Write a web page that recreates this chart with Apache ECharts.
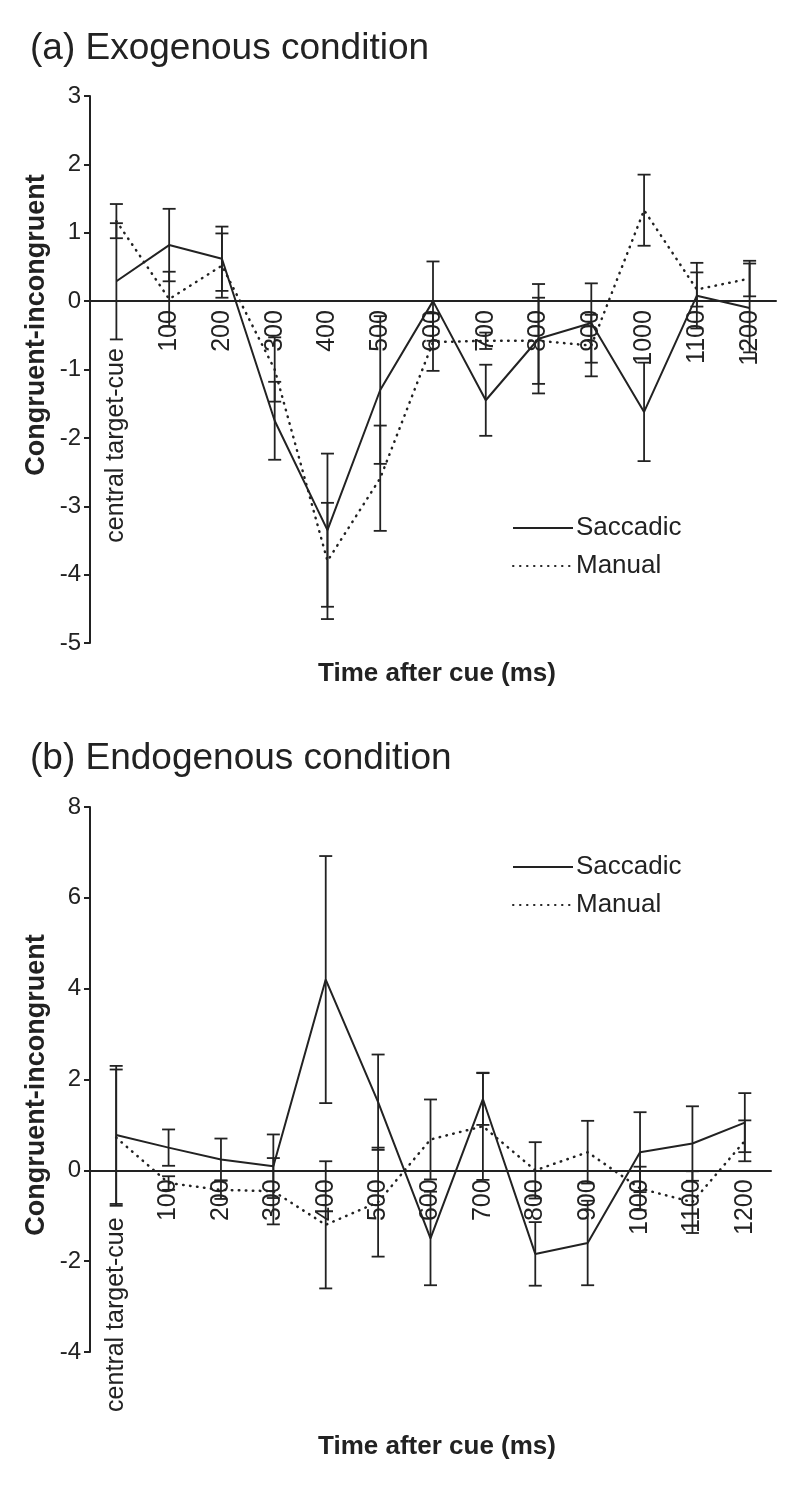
<!DOCTYPE html>
<html>
<head>
<meta charset="utf-8">
<script src="https://cdn.jsdelivr.net/npm/echarts@6/dist/echarts.min.js"></script>
<style>
  html, body { margin: 0; padding: 0; background: #fff; }
  #main { width: 800px; height: 1487px; }
</style>
</head>
<body>
<div id="main"></div>
<script>
// categories (time after cue)
var categories = ['central target-cue', '100', '200', '300', '400', '500', '600', '700', '800', '900', '1000', '1100', '1200'];

// (a) exogenous condition
var saccadicA    = [0.29, 0.82, 0.62, -1.75, -3.35, -1.30, 0.00, -1.45, -0.55, -0.32, -1.62, 0.08, -0.10];
var saccadicAErr = [0.85, 0.53, 0.47, 0.57, 1.12, 1.08, 0.58, 0.52, 0.80, 0.58, 0.72, 0.48, 0.65];
var manualA      = [1.17, 0.03, 0.52, -1.00, -3.80, -2.59, -0.60, -0.58, -0.58, -0.65, 1.33, 0.17, 0.33];
var manualAErr   = [0.25, 0.40, 0.47, 0.47, 0.85, 0.77, 0.42, 0.12, 0.63, 0.45, 0.52, 0.25, 0.26];
var rangeA = [-5, 3, 1];

// (b) endogenous condition
var saccadicB    = [0.78, 0.50, 0.24, 0.09, 4.20, 1.50, -1.50, 1.57, -1.84, -1.60, 0.40, 0.59, 1.05];
var saccadicBErr = [1.52, 0.40, 0.46, 0.70, 2.72, 1.05, 1.03, 0.57, 0.70, 0.93, 0.88, 0.82, 0.65];
var manualB      = [0.72, -0.28, -0.43, -0.46, -1.20, -0.70, 0.68, 0.97, 0.00, 0.40, -0.40, -0.70, 0.65];
var manualBErr   = [1.50, 0.15, 0.20, 0.73, 1.40, 1.20, 0.88, 1.18, 0.62, 0.69, 0.48, 0.68, 0.45];
var rangeB = [-4, 8, 2];

var FONT = 'Liberation Sans, Arial, Helvetica, sans-serif';
var INK = '#222';

// plot boxes
var boxA = { left: 90, top: 96, width: 686, height: 547 };
var boxB = { left: 90, top: 807, width: 681, height: 545 };

// a grid that ends on the zero line, so the category axis and its labels sit at y = 0
function zeroBox(box, range) {
    return { left: box.left, top: box.top, width: box.width,
             height: box.height * range[1] / (range[1] - range[0]) };
}

function errData(vals, errs) {
    return vals.map(function (v, i) { return [i, v - errs[i], v + errs[i]]; });
}

function renderErr(params, api) {
    var x = api.value(0);
    var top = api.coord([x, api.value(2)]);
    var bot = api.coord([x, api.value(1)]);
    var hw = 6.5;
    var st = { stroke: INK, lineWidth: 1.8 };
    return {
        type: 'group',
        children: [
            { type: 'line', shape: { x1: top[0], y1: top[1], x2: bot[0], y2: bot[1] }, style: st },
            { type: 'line', shape: { x1: top[0] - hw, y1: top[1], x2: top[0] + hw, y2: top[1] }, style: st },
            { type: 'line', shape: { x1: bot[0] - hw, y1: bot[1], x2: bot[0] + hw, y2: bot[1] }, style: st }
        ]
    };
}

// data x axis (hidden) for the plot grids
function dataXAxis(gi) {
    return { type: 'category', gridIndex: gi, data: categories, show: false };
}

// visible category axis on the zero-line grids
function labelXAxis(gi) {
    return {
        type: 'category',
        gridIndex: gi,
        data: categories,
        axisLine: { lineStyle: { color: INK, width: 2 } },
        axisTick: { length: 6, lineStyle: { color: INK, width: 2 } },
        axisLabel: {
            interval: 0, rotate: 90, margin: 9,
            color: INK, fontSize: 25, fontFamily: FONT,
            formatter: function (v, i) { return i === 0 ? '{c|' + v + '}' : v; },
            rich: { c: { fontSize: 25, fontFamily: FONT, color: INK, padding: [0, 38, 0, 0] } }
        },
        splitLine: { show: false }
    };
}

function yAxisFor(gi, range) {
    return {
        type: 'value',
        gridIndex: gi,
        min: range[0], max: range[1], interval: range[2],
        axisLine: { show: true, onZero: false, lineStyle: { color: INK, width: 2 } },
        axisTick: { show: true, length: 6, lineStyle: { color: INK, width: 2 } },
        axisLabel: { color: INK, fontSize: 24, fontFamily: FONT, margin: 9 },
        splitLine: { show: false }
    };
}

function hiddenYAxis(gi) {
    return { type: 'value', gridIndex: gi, min: 0, max: 1, show: false };
}

function lineSeries(name, data, gi, dotted) {
    return {
        name: name,
        type: 'line',
        xAxisIndex: gi, yAxisIndex: gi,
        data: data,
        symbol: 'none',
        z: 3,
        lineStyle: dotted
            ? { color: INK, width: 2.5, type: [0.5, 6.5], cap: 'round' }
            : { color: INK, width: 2, type: 'solid' },
        itemStyle: { color: INK }
    };
}

function errSeries(vals, errs, gi) {
    return {
        type: 'custom',
        xAxisIndex: gi, yAxisIndex: gi,
        data: errData(vals, errs),
        encode: { x: 0, y: [1, 2] },
        renderItem: renderErr,
        z: 2,
        silent: true
    };
}

function legendAt(top) {
    return {
        orient: 'vertical',
        left: 507, top: top,
        itemWidth: 60, itemHeight: 14, itemGap: 12,
        itemStyle: { opacity: 0 },
        textStyle: { color: INK, fontSize: 26, fontFamily: FONT, padding: [0, 0, 0, -2] },
        data: ['Saccadic', 'Manual']
    };
}

function centeredText(text, x, y, font, rot) {
    return { type: 'text', x: x, y: y, rotation: rot || 0,
             style: { text: text, x: 0, y: 0, align: 'center', verticalAlign: 'middle',
                      textAlign: 'center', textVerticalAlign: 'middle', fill: INK, font: font } };
}

var myChart = echarts.init(document.getElementById('main'));
var option = {
    backgroundColor: '#fff',
    animation: false,
    grid: [boxA, boxB, zeroBox(boxA, rangeA), zeroBox(boxB, rangeB)],
    xAxis: [dataXAxis(0), dataXAxis(1), labelXAxis(2), labelXAxis(3)],
    yAxis: [yAxisFor(0, rangeA), yAxisFor(1, rangeB), hiddenYAxis(2), hiddenYAxis(3)],
    legend: [legendAt(510), legendAt(849)],
    graphic: [
        { type: 'text', left: 30, top: 30, style: { text: '(a) Exogenous condition', fill: INK, font: '37px ' + FONT } },
        { type: 'text', left: 30, top: 740, style: { text: '(b) Endogenous condition', fill: INK, font: '37px ' + FONT } },
        centeredText('Congruent-incongruent', 37, 325, 'bold 27px ' + FONT, Math.PI / 2),
        centeredText('Congruent-incongruent', 37, 1085, 'bold 27px ' + FONT, Math.PI / 2),
        centeredText('Time after cue (ms)', 437, 674, 'bold 26px ' + FONT),
        centeredText('Time after cue (ms)', 437, 1447, 'bold 26px ' + FONT)
    ],
    series: [
        errSeries(saccadicA, saccadicAErr, 0),
        errSeries(manualA, manualAErr, 0),
        lineSeries('Saccadic', saccadicA, 0, false),
        lineSeries('Manual', manualA, 0, true),
        errSeries(saccadicB, saccadicBErr, 1),
        errSeries(manualB, manualBErr, 1),
        lineSeries('Saccadic', saccadicB, 1, false),
        lineSeries('Manual', manualB, 1, true)
    ]
};
myChart.setOption(option);
</script>
</body>
</html>
